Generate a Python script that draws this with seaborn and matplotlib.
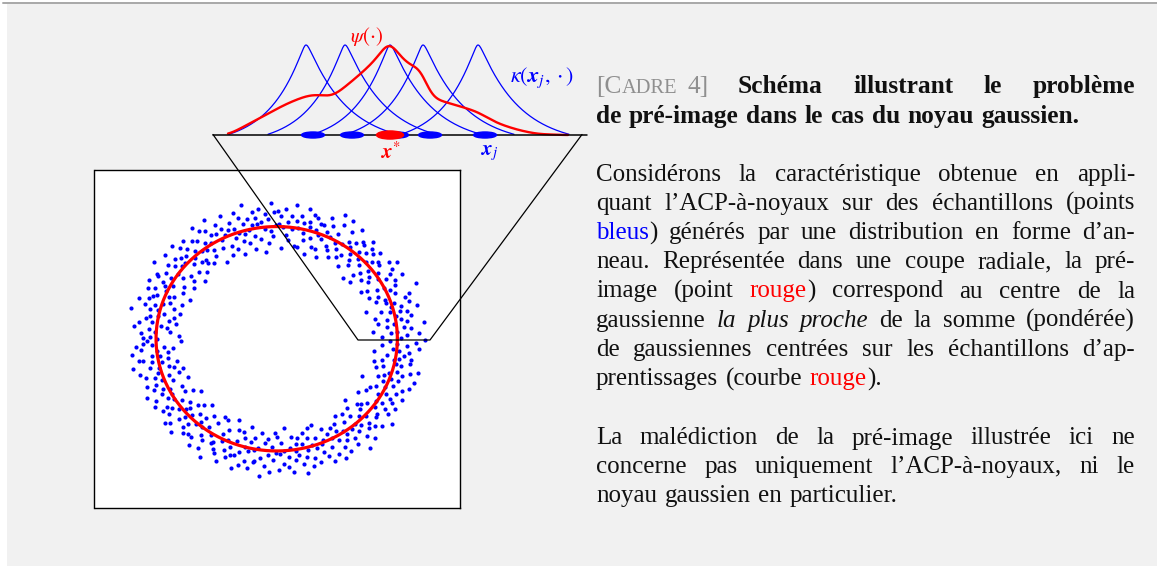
import re
import numpy as np
import pandas as pd
import matplotlib
matplotlib.use("Agg")
import matplotlib.pyplot as plt
from matplotlib.patches import Ellipse, Rectangle
import seaborn as sns

# ---------------- data ----------------
# radial cut: training samples x_j and the pre-image x*
samples = [1.00, 1.39, 1.84, 2.17, 2.72]
x_star = 1.77

# psi(.) : weighted sum of narrow gaussians (first centre, spacing, width)
psi_first, psi_step, psi_sigma = 0.16, 0.08, 0.07
psi_weights = [0.003, 0.024, 0.046, 0.067, 0.089, 0.111, 0.133, 0.154, 0.172, 0.188,
               0.202, 0.205, 0.198, 0.196, 0.227, 0.261, 0.294, 0.330, 0.368, 0.413,
               0.500, 0.415, 0.374, 0.340, 0.360, 0.200, 0.178, 0.167, 0.156, 0.144,
               0.131, 0.119, 0.095, 0.071, 0.053, 0.040, 0.027, 0.018, 0.009, 0.004,
               0.003, 0.001, 0.000]

# ring samples: radial offsets (in 1/95 of the radius), one row per 10-degree sector
ring_offsets = [
    [3, -12, 8, 17, -5, 0, -19, 11, 6, -8, 22, -2, 9, -14, 4],
    [-7, 13, 1, -16, 10, 5, -3, 19, -10, 7, -1, 14, -21, 2, 12, -4],
    [16, -4, -11, 6, 24, -8, 3, -15, 9, 0, -6, 11, 18, -13],
    [5, -18, 10, -1, 13, -9, 20, 2, -6, 15, -12, 7, -3, 8, -20],
    [-9, 4, 14, -14, 1, 9, -5, -22, 12, 6, -2, 17, -11, 3, 10, -7],
    [11, -3, -17, 7, 2, 19, -8, 5, -12, 13, 0, -6, 21, -15],
    [-2, 15, 6, -10, 23, -7, 1, 10, -19, 4, 16, -4, -13, 8, -1],
    [8, -13, 2, 12, -6, -20, 14, 3, 7, -9, 18, -3, 5, -16, 11, 0],
    [-15, 6, 19, -1, 10, -11, 4, -7, 15, 0, -18, 9, 2, 13],
    [1, 12, -8, 20, -4, 7, -14, 11, -2, -21, 5, 16, -10, 3, 9],
    [14, -6, 3, -17, 9, 0, 22, -11, 6, -3, 12, -8, 17, -1, -19, 4],
    [-4, 10, -13, 5, 18, -9, 2, 8, -16, 13, -1, 6, -7, 21],
    [7, -19, 12, 1, -5, 15, -10, 4, 20, -2, 9, -14, 0, 11, -8],
    [-11, 3, 16, -7, 9, -1, -16, 13, 5, -4, 19, -12, 7, 2, -20, 10],
    [2, 18, -9, 6, -14, 11, 0, -5, 21, -17, 8, 3, -10, 14],
    [13, -2, 7, -12, 4, 17, -19, 1, 10, -7, 15, -3, 6, -15, 9],
    [-6, 11, -1, 19, -10, 5, 13, -16, 2, 8, -4, 23, -12, 0, 7, -9],
    [9, -15, 4, 14, -3, -8, 18, 6, -11, 1, 12, -18, 5, 10],
    [-1, 7, -20, 10, 3, 16, -6, 12, -13, 0, 20, -9, 4, -2, 15],
    [12, -8, 5, -3, 21, -14, 8, 1, -7, 17, -11, 3, 13, -17, 6, -5],
    [-13, 2, 15, 8, -6, 11, -18, 4, 19, -1, 7, -10, 14, 0],
    [4, 17, -10, 1, -16, 9, 13, -4, 6, -21, 11, 2, -8, 18, -2],
    [15, -5, 8, -11, 3, 20, -2, -15, 10, 5, -7, 14, -19, 1, 12, -3],
    [-8, 12, 0, 18, -13, 6, -3, 9, 16, -10, 2, -17, 22, 7],
    [6, -16, 11, -4, 14, 2, -9, 19, -1, 8, -20, 13, 4, -12, 10],
    [-3, 9, 20, -12, 5, -7, 16, 0, -18, 12, 3, -5, 17, -9, 1, 11],
    [10, -1, -14, 7, 22, -6, 13, -10, 4, 18, -3, 8, -15, 2],
    [-12, 16, 3, -7, 11, 0, -19, 14, 6, -2, 19, -11, 9, 1, -5],
    [5, -9, 13, 21, -4, 8, -13, 2, 17, -8, 10, -1, -16, 15, 3, -6],
    [-17, 8, 1, 12, -2, 18, -11, 6, -5, 14, 0, 20, -9, 4],
    [11, -4, 17, -10, 7, -1, 3, -15, 15, 9, -7, 2, 23, -13, 6],
    [0, 14, -8, 4, 19, -14, 10, -3, 7, -20, 12, 1, -6, 16, -11, 8],
    [-9, 6, 21, -5, 2, 13, -17, 9, -1, 4, 15, -12, 11, -3],
    [8, -11, 3, 16, -7, 10, 0, -21, 13, 5, -4, 18, -9, 1, 7],
    [-5, 19, -2, 9, -13, 4, 14, -8, 20, -16, 6, 1, -10, 12, -1, 3],
    [12, -7, 6, -18, 10, 2, -3, 17, -12, 8, 0, 15, -6, 22],
]

# text of the box
tag_big, tag_small, tag_num = "[C", "ADRE", "4]"
title_1 = "Schéma illustrant le problème"
title_2 = "de pré-image dans le cas du noyau gaussien."
para_1 = [
    "Considérons la caractéristique obtenue en appli-",
    "quant l’ACP-à-noyaux sur des échantillons (points",
    "{blue:bleus}) générés par une distribution en forme d’an-",
    "neau. Représentée dans une coupe radiale, la pré-",
    "image (point {red:rouge}) correspond au centre de la",
    "gaussienne {it:la plus proche} de la somme (pondérée)",
    "de gaussiennes centrées sur les échantillons d’ap-",
    "prentissages (courbe {red:rouge}).",
]
para_2 = [
    "La malédiction de la pré-image illustrée ici ne",
    "concerne pas uniquement l’ACP-à-noyaux, ni le",
    "noyau gaussien en particulier.",
]

# ---------------- figure ----------------
sns.set_style("white")
plt.rcParams["mathtext.fontset"] = "stix"
W, H = 1157, 566
fig = plt.figure(figsize=(W / 100, H / 100), dpi=100, facecolor="white")
renderer = fig.canvas.get_renderer()


def box(x0, y0, x1, y1):
    return [x0 / W, 1 - y1 / H, (x1 - x0) / W, (y1 - y0) / H]


# background panel
bg = fig.add_axes([0, 0, 1, 1], zorder=-1)
bg.set_xlim(0, W)
bg.set_ylim(H, 0)
bg.axis("off")
bg.add_patch(Rectangle((7, 3.5), W - 7, H - 3.5, color="#f1f1f1", lw=0))
bg.plot([3, W], [2.5, 2.5], color="#a8a8a8", lw=1.4)

# ring of samples
rax = fig.add_axes(box(94.5, 170, 460, 508.3), zorder=1)
rax.set_facecolor("white")
px, py = [], []
for k, row in enumerate(ring_offsets):
    for i, d in enumerate(row):
        th = np.deg2rad(10 * k + 10 * (i + 0.5) / len(row))
        px.append((1 + d / 95) * np.cos(th))
        py.append((1 + d / 95) * np.sin(th))
ring = pd.DataFrame({"x": px, "y": py})
sns.scatterplot(data=ring, x="x", y="y", color="blue", s=9, linewidth=0, ax=rax)
t = np.linspace(0, 2 * np.pi, 400)
rax.plot(np.cos(t), np.sin(t), color="red", lw=2.3)
rax.set_xlim(-1.510, 1.519)
rax.set_ylim(-1.511, 1.504)
rax.set_xticks([])
rax.set_yticks([])
rax.set_xlabel("")
rax.set_ylabel("")
for sp in rax.spines.values():
    sp.set_visible(True)
    sp.set_color("black")
    sp.set_linewidth(1.0)

# kernels on the radial cut
kax = fig.add_axes(box(213, 30, 587, 140), zorder=2)
kax.set_xlim(0, 3.74)
kax.set_ylim(-5 / 90, 105 / 90)
kax.axis("off")


def kernel(x, s, half=0.84, shift=0.07, a=0.44, tip=0.03):
    peak = s - shift
    u = np.where(x < peak, (peak - x) / (peak - s + half), (x - peak) / (s + half - peak))
    u = np.sqrt(u ** 2 + tip ** 2) - tip
    k = (np.exp(-u / a) - np.exp(-1 / a)) / (1 - np.exp(-1 / a))
    return np.clip(k, 0, None)


rows = []
for j, s in enumerate(samples):
    xs = np.linspace(s - 0.84, s + 0.84, 300)
    rows.append(pd.DataFrame({"x": xs, "k": kernel(xs, s), "j": j}))
kdf = pd.concat(rows)
sns.lineplot(data=kdf, x="x", y="k", hue="j", palette=["blue"] * len(samples),
             estimator=None, legend=False, linewidth=0.9, ax=kax)

centres = psi_first + psi_step * np.arange(len(psi_weights))
xs = np.linspace(0.15, 3.55, 600)
psi = sum(w * np.exp(-0.5 * ((xs - c) / psi_sigma) ** 2) for w, c in zip(psi_weights, centres))
sns.lineplot(x=xs, y=psi, color="red", linewidth=1.7, estimator=None, ax=kax)
kax.plot([0, 3.74], [0, 0], color="black", lw=1.1, zorder=2)
for s in samples:
    kax.add_patch(Ellipse((s, 0), 0.23, 0.067, color="blue", zorder=3))
kax.add_patch(Ellipse((x_star, 0), 0.27, 0.09, color="red", zorder=4))
kax.set_xlabel("")
kax.set_ylabel("")
for ln in kax.lines:
    ln.set_clip_on(False)

# foreground: zoom lines, labels, text
fg = fig.add_axes([0, 0, 1, 1], zorder=5)
fg.set_xlim(0, W)
fg.set_ylim(H, 0)
fg.axis("off")
fg.plot([213, 358, 430, 582], [134.5, 340, 340, 134.5], color="black", lw=0.9)

fg.text(366, 36, r"$\psi(\cdot)$", color="red", fontsize=15, ha="center", va="center")
fg.text(542, 78, r"$\kappa(\mathbfit{x}_j,\cdot)$", color="blue", fontsize=16, ha="center", va="center")
fg.text(391, 152, r"$\mathbfit{x}^{*}$", color="red", fontsize=15, ha="center", va="center")
fg.text(490, 153, r"$\mathbfit{x}_j$", color="blue", fontsize=15, ha="center", va="center")

FS = 18
FS_B = 18.3
BASE = dict(family="Liberation Serif", fontsize=FS, color="#111111")
STYLES = {"": {}, "blue": {"color": "blue"}, "red": {"color": "red"},
          "it": {"style": "italic"}, "b": {"fontweight": "bold", "fontsize": FS_B}}
SPACE = 0.3 * FS * 100 / 72


def parse(line, default=""):
    segs, pos = [], 0
    for m in re.finditer(r"\{(\w+):([^}]*)\}", line):
        if m.start() > pos:
            segs.append((line[pos:m.start()], default))
        segs.append((m.group(2), m.group(1)))
        pos = m.end()
    if pos < len(line):
        segs.append((line[pos:], default))
    words = [[]]
    for txt, st in segs:
        for i, p in enumerate(txt.split(" ")):
            if i > 0:
                words.append([])
            if p:
                words[-1].append((p, st))
    return [w for w in words if w]


def draw_line(line, x0, x1, y, justify, default=""):
    placed, widths = [], []
    for word in parse(line, default):
        chunks = []
        for txt, st in word:
            props = {**BASE, **STYLES[default], **STYLES[st]}
            tt = fg.text(0, y, txt, ha="left", va="baseline", **props)
            chunks.append((tt, tt.get_window_extent(renderer=renderer).width))
        placed.append(chunks)
        widths.append(sum(w for _, w in chunks))
    gap = (x1 - x0 - sum(widths)) / (len(placed) - 1) if justify else SPACE
    x = x0
    for chunks in placed:
        for tt, w in chunks:
            tt.set_x(x)
            x += w
        x += gap


LEFT, RIGHT = 596, 1135
# title
gray = "#8f8f8f"
t1 = fg.text(LEFT, 93.3, tag_big, ha="left", va="baseline", **{**BASE, "color": gray, "fontsize": FS_B})
x = LEFT + t1.get_window_extent(renderer=renderer).width
t2 = fg.text(x, 93.3, tag_small, ha="left", va="baseline", **{**BASE, "color": gray, "fontsize": FS_B * 0.8})
x += t2.get_window_extent(renderer=renderer).width + SPACE + 3
fg.text(x, 93.3, tag_num, ha="left", va="baseline", **{**BASE, "color": gray, "fontsize": FS_B})
draw_line(title_1, 738, RIGHT, 93.3, True, default="b")
draw_line(title_2, LEFT, RIGHT, 122.7, False, default="b")

for i, line in enumerate(para_1):
    draw_line(line, LEFT, RIGHT, 180.7 + 29.2 * i, i < len(para_1) - 1)
for i, line in enumerate(para_2):
    draw_line(line, LEFT, RIGHT, 444.5 + 28.8 * i, i < len(para_2) - 1)

fig.savefig("out.png", dpi=100, facecolor="white")
